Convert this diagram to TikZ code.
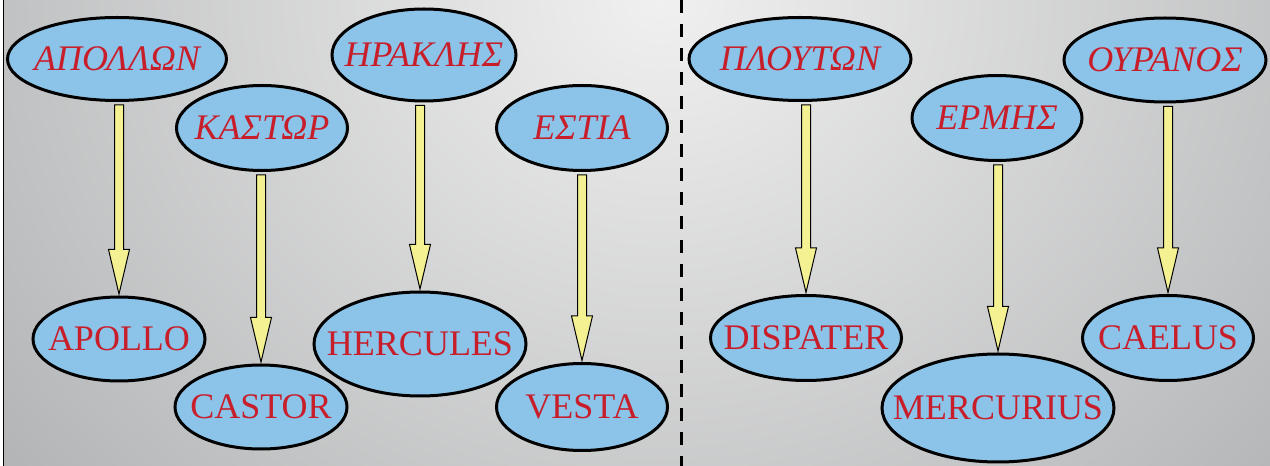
\documentclass[tikz,border=0pt]{standalone}
\usepackage{fontspec}
\setmainfont{Liberation Serif}
\newfontfamily\godfont{Liberation Serif}
\usepackage{xcolor}
\usepackage{tikz}
\usetikzlibrary{shapes.geometric,calc}

\definecolor{godblue}{RGB}{139,195,233}
\definecolor{godred}{RGB}{200,30,42}
\definecolor{arrowyellow}{RGB}{243,241,145}
\definecolor{bglight}{RGB}{240,240,240}
\definecolor{bgmid}{RGB}{190,191,192}
\definecolor{bgdark}{RGB}{150,152,154}
\pgfdeclareradialshading{bgshade}{\pgfpointorigin}{color(0bp)=(bglight); color(20bp)=(bgmid); color(35bp)=(bgdark); color(50bp)=(bgdark)}

\begin{document}
\begin{tikzpicture}[x=1pt,y=1pt,
  latin/.style={ellipse,draw=black,line width=3pt,fill=godblue,inner sep=0pt,
    text=godred,font=\godfont\fontsize{36}{40}\selectfont},
  greek/.style={latin,font=\godfont\fontsize{36}{40}\selectfont\itshape},
  blockarrow/.style={draw=black,line width=1pt,fill=arrowyellow,line join=miter}]
  \useasboundingbox (0,0) rectangle (1270,466);
  % background
  \begin{scope}
    \clip (3,0) rectangle (1270,466);
    \shade[shading=bgshade] (660,466) ellipse [x radius=870pt, y radius=770pt];
  \end{scope}
  \draw[line width=1.5pt] (3.5,0) -- (3.5,466);
  \draw[line width=3pt,dash pattern=on 13pt off 11pt] (681,466) -- (681,0);

  % left half
  \node[greek,minimum width=219,minimum height=83] (apollon) at (117,407) {\makebox[0pt]{ΑΠΟΛΛΩΝ}};
  \node[greek,minimum width=171,minimum height=85] (kastor) at (262,338) {\makebox[0pt]{ΚΑΣΤΩΡ}};
  \node[greek,minimum width=184,minimum height=92] (herakles) at (424,411) {\makebox[0pt]{ΗΡΑΚΛΗΣ}};
  \node[greek,minimum width=171,minimum height=85] (hestia) at (582,338) {\makebox[0pt]{ΕΣΤΙΑ}};
  \node[latin,minimum width=172,minimum height=84] (apollo) at (119,127) {\makebox[0pt]{APOLLO}};
  \node[latin,minimum width=172,minimum height=84] (castor) at (261,59) {\makebox[0pt]{CASTOR}};
  \node[latin,minimum width=212,minimum height=104] (hercules) at (420,122) {\makebox[0pt]{HERCULES}};
  \node[latin,minimum width=171,minimum height=87] (vesta) at (582,59) {\makebox[0pt]{VESTA}};

  % right half
  \node[greek,minimum width=222,minimum height=83] (plouton) at (800,407) {\makebox[0pt]{ΠΛΟΥΤΩΝ}};
  \node[greek,minimum width=170,minimum height=85] (hermes) at (997,348) {\makebox[0pt]{ΕΡΜΗΣ}};
  \node[greek,minimum width=202,minimum height=84] (ouranos) at (1165,406) {\makebox[0pt]{ΟΥΡΑΝΟΣ}};
  \node[latin,minimum width=191,minimum height=85] (dispater) at (806,128) {\makebox[0pt]{DISPATER}};
  \node[latin,minimum width=232,minimum height=108] (mercurius) at (998,58) {\makebox[0pt]{MERCURIUS}};
  \node[latin,minimum width=171,minimum height=85] (caelus) at (1168,128) {\makebox[0pt]{CAELUS}};

  \foreach \src/\dst in {apollon/apollo,kastor/castor,herakles/hercules,hestia/vesta,
                         plouton/dispater,hermes/mercurius,ouranos/caelus}
    \draw[blockarrow] let \p1=(\src.south), \p2=(\dst.north) in
      (\x2-4.5,\y1-3) -- (\x2-4.5,\y2+46) -- (\x2-10.5,\y2+46) -- (\x2,\y2+1.5)
      -- (\x2+10.5,\y2+46) -- (\x2+4.5,\y2+46) -- (\x2+4.5,\y1-3) -- cycle;
\end{tikzpicture}
\end{document}
